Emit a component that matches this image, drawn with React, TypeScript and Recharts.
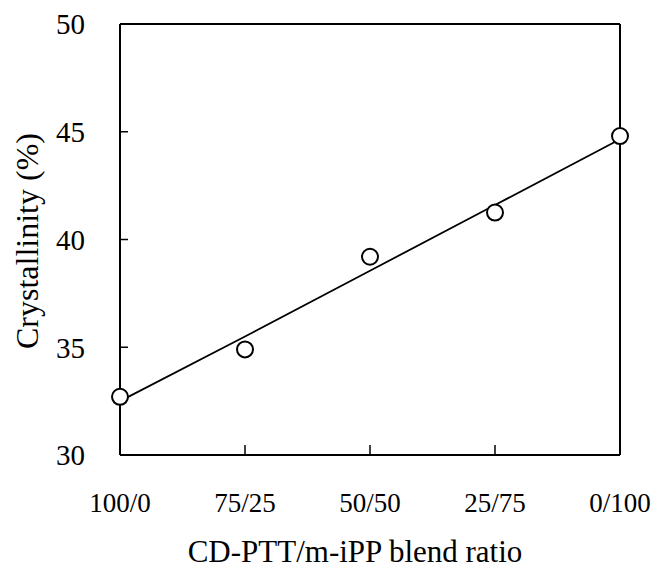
import { LineChart, Line, XAxis, YAxis, ReferenceLine } from "recharts";

const ratios = ["100/0", "75/25", "50/50", "25/75", "0/100"];
const crystallinity = [32.7, 34.9, 39.2, 41.25, 44.8];
// straight fit line
const fitLine = [32.5, 35.5, 38.55, 41.6, 44.65];
const yTicks = [30, 35, 40, 45, 50];

const data = ratios.map((r, i) => ({
    ratio: r,
    crystallinity: crystallinity[i],
    fit: fitLine[i],
}));

const FONT = "'Liberation Serif', 'Times New Roman', serif";

const OpenCircle = (props: any) => {
    const { cx, cy } = props;
    if (cx == null || cy == null) return null;
    return <circle cx={cx} cy={cy} r={8} fill="#fff" stroke="#000" strokeWidth={2} />;
};

export default function App() {
    // pinned to the top-left corner so the body margin does not push it out of the window
    return (
        <div style={{ position: "absolute", left: 0, top: 0, width: 655, height: 571 }}>
            <LineChart
                width={655}
                height={571}
                data={data}
                margin={{ top: 24, right: 35, left: 0, bottom: 0 }}
            >
                <XAxis
                    dataKey="ratio"
                    type="category"
                    padding={{ left: 0, right: 0 }}
                    height={116}
                    axisLine={{ stroke: "#000", strokeWidth: 2 }}
                    tickLine={{ stroke: "#000", strokeWidth: 1.5 }}
                    tickSize={-10}
                    tickMargin={48}
                    tick={{ fill: "#000", fontSize: 27, fontFamily: FONT }}
                    label={{
                        content: () => (
                            <text
                                x={355}
                                y={551}
                                textAnchor="middle"
                                dominantBaseline="central"
                                fontSize={31}
                                fontFamily={FONT}
                                fill="#000"
                            >
                                CD-PTT/m-iPP blend ratio
                            </text>
                        ),
                    }}
                />
                <YAxis
                    domain={[30, 50]}
                    ticks={yTicks}
                    width={120}
                    axisLine={{ stroke: "#000", strokeWidth: 2 }}
                    tickLine={{ stroke: "#000", strokeWidth: 1.5 }}
                    tickSize={-8}
                    tickMargin={43}
                    tick={{ fill: "#000", fontSize: 29, fontFamily: FONT }}
                    label={{
                        content: () => (
                            <text
                                x={27}
                                y={241}
                                transform="rotate(-90 27 241)"
                                textAnchor="middle"
                                dominantBaseline="central"
                                fontSize={32}
                                fontFamily={FONT}
                                fill="#000"
                            >
                                Crystallinity (%)
                            </text>
                        ),
                    }}
                />
                <ReferenceLine y={50} stroke="#000" strokeWidth={2} />
                <ReferenceLine x="0/100" stroke="#000" strokeWidth={2} />
                <Line
                    dataKey="fit"
                    stroke="#000"
                    strokeWidth={1.8}
                    dot={false}
                    activeDot={false}
                    isAnimationActive={false}
                />
                <Line
                    dataKey="crystallinity"
                    stroke="none"
                    dot={<OpenCircle />}
                    activeDot={false}
                    isAnimationActive={false}
                />
            </LineChart>
        </div>
    );
}
